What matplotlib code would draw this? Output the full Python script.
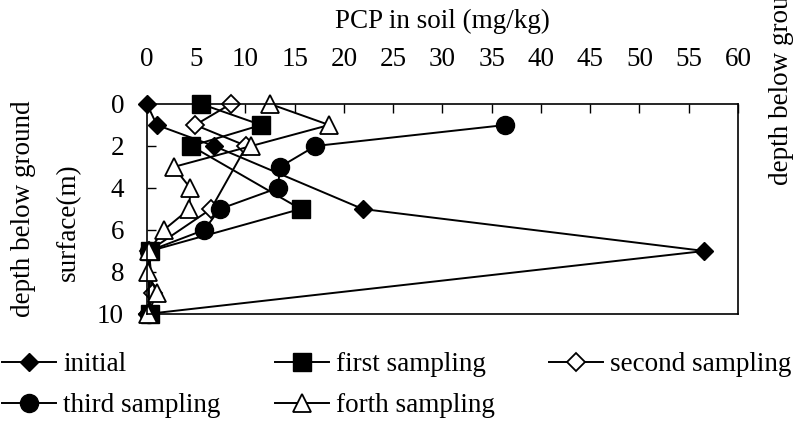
import matplotlib
matplotlib.use("Agg")
import matplotlib.pyplot as plt

plt.rcParams['font.family'] = ['Liberation Serif', 'DejaVu Serif']

# PCP in soil (mg/kg) against depth (m)
depth_initial = [0, 1, 2, 5, 7, 10]
pcp_initial = [0.0, 1.0, 6.8, 21.9, 56.6, 0.0]

depth_first = [0, 1, 2, 5, 7, 10]
pcp_first = [5.5, 11.6, 4.5, 15.6, 0.3, 0.3]

depth_second = [0, 1, 2, 5, 7, 9, 10]
pcp_second = [8.5, 4.9, 10.1, 6.5, 0.2, 0.6, 0.1]

depth_third = [1, 2, 3, 4, 5, 6, 7, 10]
pcp_third = [36.4, 17.1, 13.5, 13.3, 7.4, 5.8, 0.2, 0.2]

depth_forth = [0, 1, 2, 3, 4, 5, 6, 7, 8, 9, 10]
pcp_forth = [12.5, 18.5, 10.6, 2.7, 4.4, 4.3, 1.7, 0.2, 0.1, 1.0, 0.1]

x_ticks = list(range(0, 61, 5))
y_ticks = [0, 2, 4, 6, 8, 10]

fs = 19.5
fig = plt.figure(figsize=(7.94, 4.29), dpi=100)
ax = fig.add_axes([0.1851, 0.2681, 0.7443, 0.4895])

lw = 1.4
h_init, = ax.plot(pcp_initial, depth_initial, color='black', lw=lw, marker='D', ms=9.5,
                  mfc='black', mec='black', clip_on=False, label='initial')
h_first, = ax.plot(pcp_first, depth_first, color='black', lw=lw, marker='s', ms=12.5,
                   mfc='black', mec='black', clip_on=False, label='first sampling')
h_second, = ax.plot(pcp_second, depth_second, color='black', lw=lw, marker='D', ms=9.3,
                    mfc='white', mec='black', mew=1.3, clip_on=False, label='second sampling')
h_third, = ax.plot(pcp_third, depth_third, color='black', lw=lw, marker='o', ms=13,
                   mfc='black', mec='black', clip_on=False, label='third sampling')
h_forth, = ax.plot(pcp_forth, depth_forth, color='black', lw=lw, marker='^', ms=13,
                   mfc='white', mec='black', mew=1.3, clip_on=False, label='forth sampling')

ax.set_xlim(0, 60)
ax.set_ylim(10, 0)
ax.set_xticks(x_ticks)
ax.set_yticks(y_ticks)
ax.xaxis.tick_top()
ax.tick_params(axis='x', direction='in', length=6.5, width=1, labelsize=fs, pad=23)
ax.tick_params(axis='y', direction='in', length=6.5, width=1, labelsize=fs, pad=16.5)
for s in ax.spines.values():
    s.set_linewidth(1.2)

fig.text(442 / 794, 1 - 28 / 429, 'PCP in soil (mg/kg)', ha='center', va='baseline', fontsize=fs)
fig.text(24 / 794, 1 - 209 / 429, 'depth below ground', rotation=90,
         ha='center', va='center', fontsize=fs)
fig.text(68 / 794, 1 - 222 / 429, 'surface(m)', rotation=90,
         ha='center', va='center', fontsize=fs)
# leftover label cut off at the right edge
fig.text(781 / 794, 1 - 185 / 429, 'depth below ground', rotation=90,
         ha='center', va='bottom', fontsize=fs)

handles = [h_init, h_third, h_first, h_forth, h_second]
fig.legend(handles=handles, labels=[h.get_label() for h in handles], ncol=3,
           loc='upper left', bbox_to_anchor=(2 / 794, 1 - 352 / 429),
           frameon=False, fontsize=fs, borderpad=0, borderaxespad=0,
           handlelength=2.0, handletextpad=0.26, columnspacing=2.0, labelspacing=0.6)

fig.savefig('out.png', dpi=100)
